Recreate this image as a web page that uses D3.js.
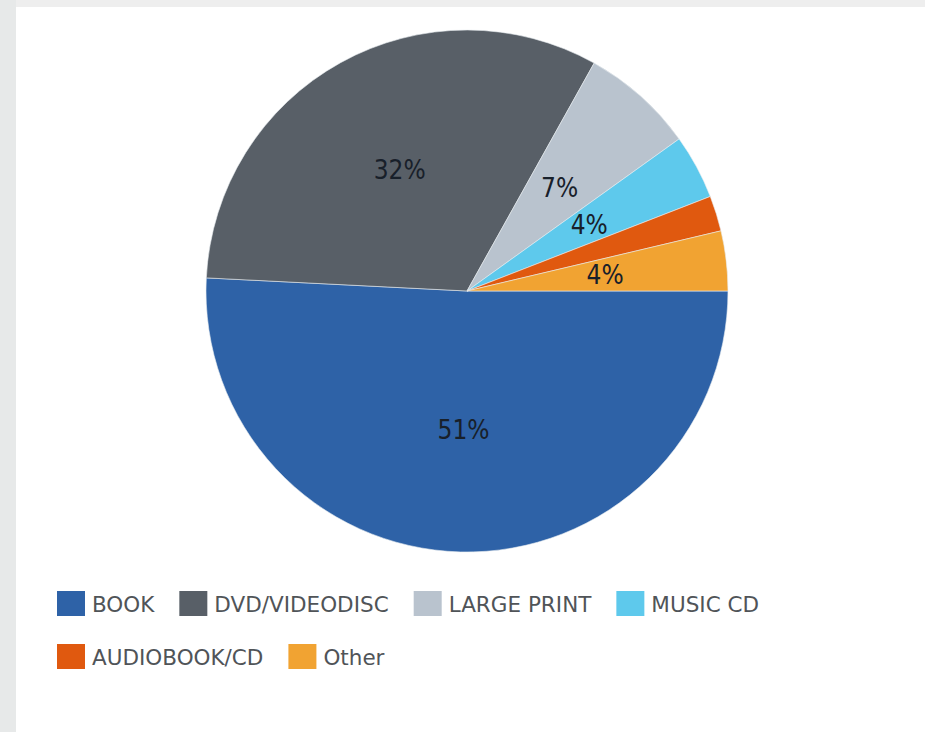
<!DOCTYPE html>
<html lang="en">
  <head>
    <meta charset="UTF-8" />
    <title>Items by format</title>
    <style>
      html, body { margin: 0; padding: 0; }
      body { width: 925px; height: 732px; background: #e7e9e9; overflow: hidden; }
      .panel { position: absolute; left: 16px; top: 7px; right: 0; bottom: 0; background: #fff; }
      #topbar { position: absolute; left: 16px; top: 0; right: 0; height: 7px; background: #eeeeee; }
      svg { position: absolute; left: 0; top: 0; }
    </style>
  </head>
  <body>
    <div id="topbar"></div>
    <div class="panel"></div>
    <div class="chart"></div>

    <script src="https://cdn.jsdelivr.net/npm/d3@7"></script>
    <script>
    // data
    var categories = ["BOOK", "DVD/VIDEODISC", "LARGE PRINT", "MUSIC CD", "AUDIOBOOK/CD", "Other"];
    var shares = [50.8, 32.3, 7.0, 4.0, 2.2, 3.7];
    var sliceColors = ["#2e62a7", "#585f67", "#b9c3ce", "#5ec9ec", "#e0590f", "#f1a332"];

    var w = 925, h = 732;
    var cx = 467, cy = 291, radius = 261;

    var svg = d3.select(".chart").append("svg")
      .attr("width", w)
      .attr("height", h);

    var rows = categories.map(function(c, i) {
      return { name: c, value: shares[i], color: sliceColors[i] };
    });

    // starts at 3 o'clock, goes clockwise
    var pie = d3.pie()
      .sort(null)
      .value(function(d) { return d.value; })
      .startAngle(Math.PI / 2)
      .endAngle(Math.PI / 2 + 2 * Math.PI);

    var arc = d3.arc().innerRadius(0).outerRadius(radius);
    var labelArc = d3.arc().innerRadius(139).outerRadius(139);

    var g = svg.append("g").attr("transform", "translate(" + cx + "," + cy + ")");

    g.selectAll("path")
      .data(pie(rows))
      .enter()
      .append("path")
      .attr("d", arc)
      .attr("fill", function(d) { return d.data.color; })
      .attr("stroke", "#e8ecf0")
      .attr("stroke-width", 0.6);

    g.selectAll("text.pct")
      .data(pie(rows).filter(function(d) { return d.data.value >= 3; }))
      .enter()
      .append("text")
      .attr("class", "pct")
      .attr("x", function(d) { return labelArc.centroid(d)[0]; })
      .attr("y", function(d) { return labelArc.centroid(d)[1]; })
      .attr("dy", "0.36em")
      .attr("text-anchor", "middle")
      .attr("font-family", "'DejaVu Sans Condensed', 'DejaVu Sans', sans-serif")
      .attr("font-size", 26)
      .attr("fill", "#18202a")
      .text(function(d) { return Math.round(d.data.value) + "%"; });

    // legend, wraps like the original
    var legend = svg.append("g");
    var lx = 57, ly = 591, rowGap = 53, maxX = 800;
    var x = lx, y = ly;
    rows.forEach(function(d) {
      var item = legend.append("g");
      item.append("rect")
        .attr("width", 28)
        .attr("height", 25)
        .attr("fill", d.color);
      var t = item.append("text")
        .attr("x", 35)
        .attr("y", 21)
        .attr("font-family", "'DejaVu Sans', sans-serif")
        .attr("font-size", 21.5)
        .attr("fill", "#505458")
        .text(d.name);
      var iw = 35 + t.node().getComputedTextLength();
      if (x + iw > maxX) { x = lx; y += rowGap; }
      item.attr("transform", "translate(" + x + "," + y + ")");
      x += iw + 25;
    });
    </script>
  </body>
</html>
